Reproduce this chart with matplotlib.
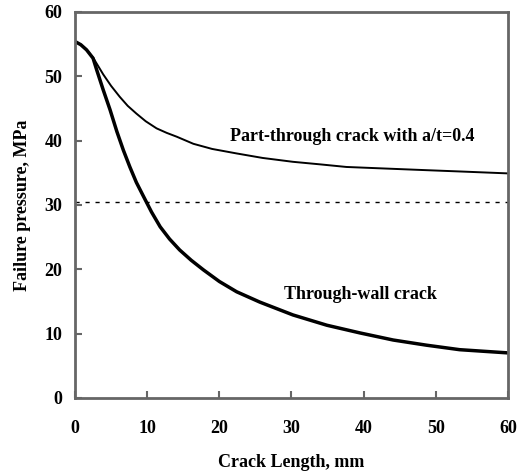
import matplotlib
matplotlib.use('Agg')
import matplotlib.pyplot as plt
import numpy as np

# values
x_part = [0, 0.8, 1.6, 2.5, 3.2, 3.9, 5.0, 6.2, 7.3, 8.5, 9.8, 11.3, 12.7, 14.1,
          16.4, 19.0, 22.4, 26.0, 30.2, 34.0, 37.6, 42.0, 48.7, 53.3, 60]
p_part = [55.4, 54.9, 54.1, 52.9, 51.6, 50.3, 48.5, 46.8, 45.4, 44.2, 43.0, 41.9, 41.2, 40.6,
          39.5, 38.7, 38.0, 37.3, 36.7, 36.3, 35.9, 35.7, 35.4, 35.2, 34.9]

x_wall = [0, 0.8, 1.6, 2.5, 3.0, 3.9, 4.85, 5.8, 6.7, 7.6, 8.5, 9.5, 10.6, 11.8,
          13.1, 14.5, 16.1, 17.8, 20.0, 22.4, 25.6, 30.2, 34.9, 39.5, 44.1,
          48.7, 53.3, 60]
p_wall = [55.4, 54.9, 54.1, 52.8, 51.0, 47.9, 44.8, 41.4, 38.5, 35.9, 33.5, 31.3, 28.9, 26.6,
          24.7, 23.0, 21.4, 19.9, 18.1, 16.5, 14.9, 12.9, 11.3, 10.1, 9.0,
          8.2, 7.5, 7.0]

limit_p = 30.5

plt.rcParams['font.family'] = 'Liberation Serif'
plt.rcParams['font.weight'] = 'bold'

fig = plt.figure(figsize=(5.21, 4.76), dpi=100)
ax = fig.add_axes([0.144, 0.164, 0.831, 0.811])

ax.plot(x_part, p_part, color='black', lw=1.4)
ax.plot(x_wall, p_wall, color='black', lw=2.5)
ax.axhline(limit_p, color='black', lw=1.0, ls=(0, (3, 4.2)))

ax.text(38.4, 40.6, 'Part-through crack with a/t=0.4', ha='center', va='center',
        fontsize=13, fontweight='bold')
ax.text(39.5, 16.1, 'Through-wall crack', ha='center', va='center',
        fontsize=13, fontweight='bold')

ax.set_xlim(0, 60)
ax.set_ylim(0, 60)
ax.set_xticks(np.arange(0, 61, 10))
ax.set_yticks(np.arange(0, 61, 10))
ax.tick_params(direction='in', length=5, width=1.5, color='#666666', labelsize=13)
ax.tick_params(axis='x', pad=16)
ax.tick_params(axis='y', pad=9)
for lab in ax.get_xticklabels() + ax.get_yticklabels():
    lab.set_fontweight('bold')
for s in ax.spines.values():
    s.set_color('#666666')
    s.set_linewidth(2)

ax.set_xlabel('Crack Length, mm', fontsize=13, fontweight='bold', labelpad=12)
ax.set_ylabel('Failure pressure, MPa', fontsize=13, fontweight='bold', labelpad=10)

fig.savefig('out.png', dpi=100)
